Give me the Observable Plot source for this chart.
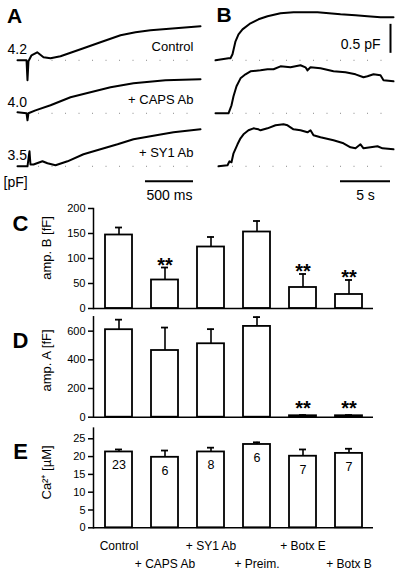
<!DOCTYPE html>
<html><head><meta charset="utf-8">
<script src="https://cdn.jsdelivr.net/npm/d3@7"></script>
<script src="https://cdn.jsdelivr.net/npm/@observablehq/plot@0.6"></script>
<style>
body{margin:0;background:#fff;}
#fig{position:relative;width:400px;height:573px;overflow:hidden;background:#fff;}
#fig svg{position:absolute;}
</style></head><body><div id="fig"></div>
<script>
// ---------- Panel A / B traces (time, capacitance change in pF) ----------
const condNames = ["Control", "+ CAPS Ab", "+ SY1 Ab"];
const baseLabels = ["4.2", "4.0", "3.5"];

// Panel A (ms)
const aCtrlT = [-104, -10, 0, 10, 42, 101, 167, 240, 344, 583, 760, 969, 1125, 1281, 1542, 1802];
const aCtrlC = [0, 0, -0.345, -0.017, 0.086, 0.138, 0.052, 0.034, 0.069, 0.207, 0.31, 0.431, 0.483, 0.517, 0.552, 0.586];
const aCapsT = [-104, -10, 0, 10, 83, 240, 448, 656, 865, 1104, 1437, 1802];
const aCapsC = [0.017, 0, -0.12, 0, 0.05, 0.138, 0.276, 0.362, 0.448, 0.517, 0.569, 0.586];
const aSy1T = [-104, 0, 21, 31, 63, 156, 208, 292, 417, 583, 760, 938, 1104, 1281, 1521, 1802];
const aSy1C = [0, 0, 0.26, 0.03, 0.03, 0.086, 0.052, 0.017, 0.086, 0.207, 0.293, 0.379, 0.466, 0.517, 0.586, 0.638];

// Panel B (s)
const bCtrlT = [0, 1.3, 1.5, 1.7, 2.0, 2.3, 2.7, 3.5, 4.3, 5.2, 6.5, 7.8, 10.2, 12.5, 14.0, 15.2, 16.5, 17.8];
const bCtrlC = [0, 0.034, 0.034, 0.103, 0.328, 0.448, 0.534, 0.638, 0.707, 0.759, 0.81, 0.828, 0.828, 0.793, 0.776, 0.759, 0.741, 0.741];
const bCapsT = [0, 1.3, 1.6, 1.8, 2.1, 2.5, 3.0, 3.5, 4.5, 5.2, 5.8, 6.5, 7.5, 8.5, 9.0, 9.2, 9.5, 10.5, 11.8, 13.0, 14.0, 14.8, 15.2, 15.8, 16.5, 16.8, 17.8];
const bCapsC = [0, 0, 0.138, 0.293, 0.466, 0.603, 0.672, 0.724, 0.741, 0.759, 0.759, 0.81, 0.793, 0.828, 0.793, 0.741, 0.793, 0.776, 0.724, 0.707, 0.672, 0.621, 0.638, 0.672, 0.655, 0.569, 0.552];
const bSy1T = [0.3, 1.2, 1.4, 1.6, 1.8, 2.2, 2.5, 2.8, 3.3, 3.8, 4.3, 4.5, 5.2, 6.0, 6.8, 7.2, 7.8, 8.5, 9.2, 9.5, 9.8, 10.5, 11.8, 12.8, 13.5, 14.0, 14.5, 14.8, 15.5, 16.2, 16.7, 17.8];
const bSy1C = [0, 0.017, 0.086, 0.069, 0.224, 0.379, 0.483, 0.552, 0.621, 0.655, 0.638, 0.621, 0.655, 0.707, 0.724, 0.707, 0.638, 0.621, 0.586, 0.621, 0.534, 0.5, 0.448, 0.397, 0.328, 0.31, 0.379, 0.31, 0.328, 0.345, 0.31, 0.293];

// scale bars
const aTimeBar = [1229, 1729];   // 500 ms
const bTimeBar = [12.5, 17.5];   // 5 s
const bCapBar = [0.12, 0.62];    // 0.5 pF

// ---------- Panels C / D / E ----------
const groups = ["Control", "+ CAPS Ab", "+ SY1 Ab", "+ Preim.", "+ Botx E", "+ Botx B"];
const ampB = [147, 57, 123, 153, 42, 28];
const ampBErr = [15, 25, 20, 22, 27, 29];
const ampBSig = ["", "**", "", "", "**", "**"];
const ampA = [610, 465, 512, 633, 10, 10];
const ampAErr = [70, 160, 102, 65, 5, 5];
const ampASig = ["", "", "", "", "**", "**"];
const caConc = [21.3, 19.8, 21.3, 23.4, 20.1, 20.9];
const caErr = [0.7, 1.9, 1.2, 0.6, 1.9, 1.3];
const nCells = [23, 6, 8, 6, 7, 7];
const ticksB = [0, 50, 100, 150, 200];
const ticksA = [0, 200, 400, 600];
const ticksCa = [0, 5, 10, 15, 20, 25];

const FONT = "'Liberation Sans', Arial, Helvetica, sans-serif";
const fig = document.getElementById("fig");
function place(svg, left, top) {
  svg.style.left = left + "px";
  svg.style.top = top + "px";
  fig.appendChild(svg);
}
function rows(ts, cs) {
  return [].concat(...condNames.map((cond, i) => ts[i].map((t, j) => ({cond, t, c: cs[i][j]}))));
}

// ---------- Panel A ----------
const rowsA = rows([aCtrlT, aCapsT, aSy1T], [aCtrlC, aCapsC, aSy1C]);
const plotA = Plot.plot({
  width: 200, height: 205, marginLeft: 17, marginRight: 0, marginTop: 24.5, marginBottom: 21.5,
  x: {domain: [-104, 1802], axis: null},
  y: {domain: [-0.314, 0.6], axis: null},
  fy: {domain: condNames, padding: 0, axis: null},
  style: {fontFamily: FONT, background: "transparent", overflow: "visible", color: "black"},
  marks: [
    Plot.ruleY(condNames, {fy: d => d, y: 0, x1: 115, x2: 1802, stroke: "#888", strokeDasharray: "1 12.5"}),
    Plot.line(rowsA, {fy: "cond", x: "t", y: "c", z: "cond", stroke: "black", strokeWidth: 2}),
    Plot.text(condNames, {fy: d => d, y: 0.23, text: d => d, frameAnchor: "right", textAnchor: "end", lineAnchor: "middle", dx: -7, fontSize: 13}),
    Plot.text(condNames, {fy: d => d, y: 0.19, text: (d, i) => baseLabels[i], frameAnchor: "left", textAnchor: "start", lineAnchor: "middle", dx: -10, fontSize: 14}),
    Plot.text(["A"], {fy: () => "Control", frameAnchor: "top-left", textAnchor: "middle", lineAnchor: "middle", dx: -3, dy: -9.5, fontSize: 21, fontWeight: "bold"}),
    Plot.ruleY(["+ SY1 Ab"], {fy: d => d, y: -0.26, x1: aTimeBar[0], x2: aTimeBar[1], strokeWidth: 2}),
    Plot.text(["500 ms"], {fy: () => "+ SY1 Ab", x: (aTimeBar[0] + aTimeBar[1]) / 2, y: -0.5, textAnchor: "middle", fontSize: 14}),
    Plot.text(["[pF]"], {fy: () => "+ SY1 Ab", frameAnchor: "left", textAnchor: "start", lineAnchor: "middle", dx: -14, y: -0.28, fontSize: 14})
  ]
});
place(plotA, 0, 0);

// ---------- Panel B ----------
const rowsB = rows([bCtrlT, bCapsT, bSy1T], [bCtrlC, bCapsC, bSy1C]);
const plotB = Plot.plot({
  width: 200, height: 205, marginLeft: 15, marginRight: 7, marginTop: 24.5, marginBottom: 21.5,
  x: {domain: [0, 17.8], axis: null},
  y: {domain: [-0.314, 0.6], axis: null},
  fy: {domain: condNames, padding: 0, axis: null},
  style: {fontFamily: FONT, background: "transparent", overflow: "visible", color: "black"},
  marks: [
    Plot.ruleY(condNames, {fy: d => d, y: 0, x1: 1.7, x2: 17.8, stroke: "#888", strokeDasharray: "1 12.5"}),
    Plot.line(rowsB, {fy: "cond", x: "t", y: "c", z: "cond", stroke: "black", strokeWidth: 2}),
    Plot.text(["B"], {fy: () => "Control", frameAnchor: "top-left", textAnchor: "middle", lineAnchor: "middle", dx: 8.5, dy: -10, fontSize: 21, fontWeight: "bold"}),
    Plot.ruleX(["Control"], {fy: d => d, x: 17.5, y1: bCapBar[0], y2: bCapBar[1], strokeWidth: 2}),
    Plot.text(["0.5 pF"], {fy: () => "Control", x: 16.5, y: 0.28, textAnchor: "end", fontSize: 14}),
    Plot.ruleY(["+ SY1 Ab"], {fy: d => d, y: -0.26, x1: bTimeBar[0], x2: bTimeBar[1], strokeWidth: 2}),
    Plot.text(["5 s"], {fy: () => "+ SY1 Ab", x: (bTimeBar[0] + bTimeBar[1]) / 2, y: -0.5, textAnchor: "middle", fontSize: 14})
  ]
});
place(plotB, 200, 0);

// ---------- Bar panels ----------
function barPanel(o) {
  const data = groups.map((g, i) => ({g, v: o.values[i], e: o.errs[i], s: o.sig ? o.sig[i] : "", n: o.n ? o.n[i] : ""}));
  const marks = [
    Plot.barY(data, {x: "g", y: "v", fill: "white", stroke: "black", strokeWidth: 1.8}),
    Plot.ruleX(data, {x: "g", y1: "v", y2: d => d.v + d.e, strokeWidth: 1.6}),
    Plot.tickY(data, {x: "g", y: d => d.v + d.e, strokeWidth: 1.8, insetLeft: 10, insetRight: 10}),
    Plot.ruleY([0], {strokeWidth: 1.5}),
    Plot.frame({anchor: "left", strokeWidth: 1.5}),
    Plot.axisY({ticks: o.ticks, tickSize: 5, tickPadding: 3, fontSize: 11, label: null, strokeWidth: 1.5}),
    Plot.text([o.ylabel], {frameAnchor: "left", textAnchor: "middle", lineAnchor: "middle", rotate: -90, dx: -47, dy: o.ylabelDy, fontSize: 13}),
    Plot.text([o.letter], {frameAnchor: "left", textAnchor: "middle", lineAnchor: "middle", dx: -73, dy: o.letterDy, fontSize: 22, fontWeight: "bold"})
  ];
  if (o.sig) marks.push(Plot.text(data.filter(d => d.s), {x: "g", y: d => d.v + d.e, text: "s", dy: o.sigDy, fontSize: 20, fontWeight: "bold"}));
  if (o.n) marks.push(Plot.text(data, {x: "g", y: "v", text: "n", dy: 13.5, fontSize: 12.5}));
  if (o.xaxis) {
    marks.push(Plot.axisX({ticks: groups.filter((d, i) => i % 2 === 0), tickSize: 0, tickPadding: 14, fontSize: 12, label: null}));
    marks.push(Plot.axisX({ticks: groups.filter((d, i) => i % 2 === 1), tickSize: 0, tickPadding: 32, fontSize: 12, label: null}));
  }
  const svg = Plot.plot({
    width: 400, height: o.height, marginLeft: 93, marginRight: 27, marginTop: o.mt, marginBottom: o.mb,
    x: {domain: groups, paddingInner: 0.415, paddingOuter: 0.2075, axis: null},
    y: {domain: o.domain, axis: null},
    style: {fontFamily: FONT, background: "transparent", overflow: "visible", color: "black"},
    marks
  });
  place(svg, 0, o.top);
}

barPanel({values: ampB, errs: ampBErr, sig: ampBSig, sigDy: -2, ticks: ticksB, domain: [0, 200],
  top: 190, height: 130, mt: 18, mb: 12, letter: "C", letterDy: -34.5, ylabel: "amp. B [fF]", ylabelDy: -10.5});
barPanel({values: ampA, errs: ampAErr, sig: ampASig, sigDy: -6, ticks: ticksA, domain: [0, 700],
  top: 305, height: 120, mt: 11.3, mb: 8.3, letter: "D", letterDy: -26.5, ylabel: "amp. A [fF]", ylabelDy: -6.5});
barPanel({values: caConc, errs: caErr, n: nCells, ticks: ticksCa, domain: [0, 28],
  top: 420, height: 153, mt: 7.6, mb: 45.7, letter: "E", letterDy: -26, ylabel: "Ca²⁺ [µM]", ylabelDy: -5.5, xaxis: true});
</script>
</body></html>
